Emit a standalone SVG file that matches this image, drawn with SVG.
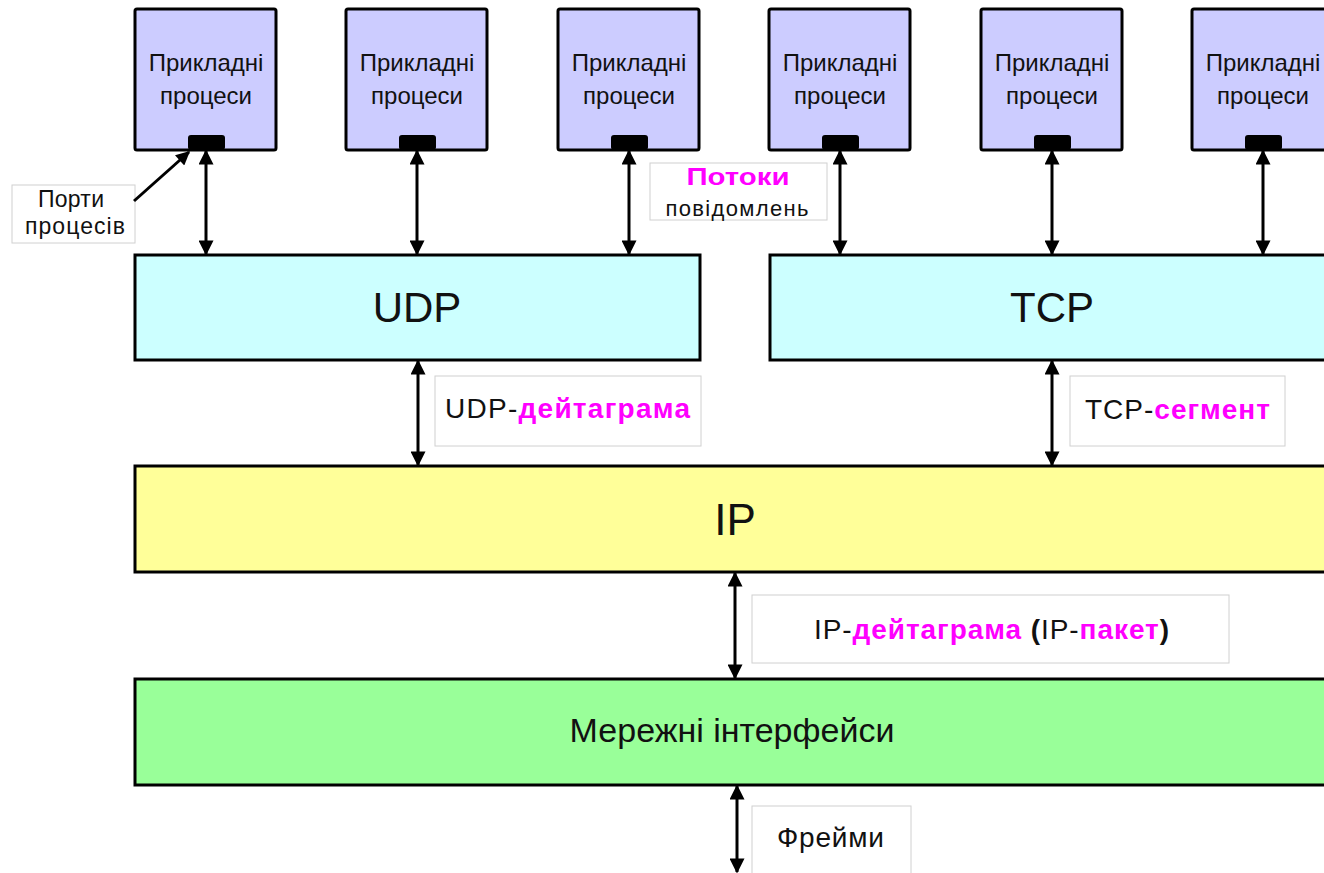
<svg xmlns="http://www.w3.org/2000/svg" width="1324" height="873" viewBox="0 0 1324 873">
<style>
text{font-family:"Liberation Sans",Arial,sans-serif;fill:#111}
.proc{fill:#ccccff;stroke:#000;stroke-width:3}
.port{fill:#000}
.pt{font-size:24px;text-anchor:middle}
.layer{stroke:#000;stroke-width:3}
.lbl{fill:#fff;stroke:#d0d0d0;stroke-width:1}
.mag{fill:#ff00ff;font-weight:bold}
.conn line{stroke:#000;stroke-width:3;marker-start:url(#ah);marker-end:url(#ah)}
</style>
<defs>
<marker id="ah" viewBox="0 0 10 10" refX="9" refY="5" markerWidth="16" markerHeight="15" markerUnits="userSpaceOnUse" orient="auto-start-reverse"><path d="M0,0 L10,5 L0,10 z" fill="#000"/></marker>
<marker id="ah1" viewBox="0 0 10 10" refX="9" refY="5" markerWidth="15" markerHeight="14" markerUnits="userSpaceOnUse" orient="auto"><path d="M0,0 L10,5 L0,10 z" fill="#000"/></marker>
</defs>
<rect width="1324" height="873" fill="#fff"/>

<g id="proc1"><rect class="proc" x="135" y="9" width="141" height="141" rx="2"/><rect class="port" x="188" y="135" width="37" height="15" rx="3"/><text class="pt" x="206" y="71">Прикладні</text><text class="pt" x="206" y="104">процеси</text></g>
<g id="proc2"><rect class="proc" x="346" y="9" width="141" height="141" rx="2"/><rect class="port" x="399" y="135" width="37" height="15" rx="3"/><text class="pt" x="417" y="71">Прикладні</text><text class="pt" x="417" y="104">процеси</text></g>
<g id="proc3"><rect class="proc" x="558" y="9" width="141" height="141" rx="2"/><rect class="port" x="611" y="135" width="37" height="15" rx="3"/><text class="pt" x="629" y="71">Прикладні</text><text class="pt" x="629" y="104">процеси</text></g>
<g id="proc4"><rect class="proc" x="769" y="9" width="141" height="141" rx="2"/><rect class="port" x="822" y="135" width="37" height="15" rx="3"/><text class="pt" x="840" y="71">Прикладні</text><text class="pt" x="840" y="104">процеси</text></g>
<g id="proc5"><rect class="proc" x="981" y="9" width="141" height="141" rx="2"/><rect class="port" x="1034" y="135" width="37" height="15" rx="3"/><text class="pt" x="1052" y="71">Прикладні</text><text class="pt" x="1052" y="104">процеси</text></g>
<g id="proc6"><rect class="proc" x="1192" y="9" width="141" height="141" rx="2"/><rect class="port" x="1245" y="135" width="37" height="15" rx="3"/><text class="pt" x="1263" y="71">Прикладні</text><text class="pt" x="1263" y="104">процеси</text></g>

<g id="udp"><rect class="layer" x="135" y="255" width="565" height="105" fill="#ccffff"/><text x="417" y="322" font-size="42" text-anchor="middle">UDP</text></g>
<g id="tcp"><rect class="layer" x="770" y="255" width="570" height="105" fill="#ccffff"/><text x="1052" y="322" font-size="42" text-anchor="middle">TCP</text></g>
<g id="ip"><rect class="layer" x="135" y="466" width="1205" height="106" fill="#ffff99"/><text x="735" y="535" font-size="44" text-anchor="middle">IP</text></g>
<g id="net"><rect class="layer" x="135" y="679" width="1205" height="106" fill="#99ff99"/><text x="732" y="742" font-size="34" text-anchor="middle">Мережні інтерфейси</text></g>

<g id="lbl-ports"><rect class="lbl" x="12" y="185" width="123" height="58"/><text x="71" y="207" font-size="23" text-anchor="middle" textLength="66" lengthAdjust="spacing">Порти</text><text x="75" y="234" font-size="23" text-anchor="middle" textLength="100" lengthAdjust="spacing">процесів</text></g>
<g id="lbl-streams"><rect class="lbl" x="650" y="163" width="177" height="57"/><text x="738" y="185" font-size="24" text-anchor="middle" textLength="103" lengthAdjust="spacingAndGlyphs" class="mag">Потоки</text><text x="737" y="216" font-size="22" text-anchor="middle" textLength="143" lengthAdjust="spacing">повідомлень</text></g>
<g id="lbl-udp"><rect class="lbl" x="435" y="376" width="266" height="70"/><text x="445" y="418" font-size="28" textLength="245" lengthAdjust="spacing">UDP-<tspan class="mag">дейтаграма</tspan></text></g>
<g id="lbl-tcp"><rect class="lbl" x="1070" y="376" width="215" height="70"/><text x="1085" y="419" font-size="28" textLength="185" lengthAdjust="spacing">TCP-<tspan class="mag">сегмент</tspan></text></g>
<g id="lbl-ip"><rect class="lbl" x="752" y="595" width="477" height="68"/><text x="814" y="639" font-size="28" textLength="355" lengthAdjust="spacing">IP-<tspan class="mag">дейтаграма</tspan> <tspan font-weight="bold">(</tspan>IP-<tspan class="mag">пакет</tspan><tspan font-weight="bold">)</tspan></text></g>
<g id="lbl-frames"><rect class="lbl" x="752" y="806" width="159" height="80"/><text x="777" y="847" font-size="28" textLength="107" lengthAdjust="spacing">Фрейми</text></g>

<g id="connectors" class="conn">
<line x1="206" y1="151" x2="206" y2="254"/>
<line x1="417" y1="151" x2="417" y2="254"/>
<line x1="629" y1="151" x2="629" y2="254"/>
<line x1="840" y1="151" x2="840" y2="254"/>
<line x1="1052" y1="151" x2="1052" y2="254"/>
<line x1="1263" y1="151" x2="1263" y2="254"/>
<line x1="418" y1="361" x2="418" y2="465"/>
<line x1="1052" y1="361" x2="1052" y2="465"/>
<line x1="735" y1="573" x2="735" y2="678"/>
<line x1="737" y1="786" x2="737" y2="872"/>
<path d="M134,201 L189,152" stroke="#000" stroke-width="3" fill="none" marker-end="url(#ah1)"/>
</g>
</svg>
